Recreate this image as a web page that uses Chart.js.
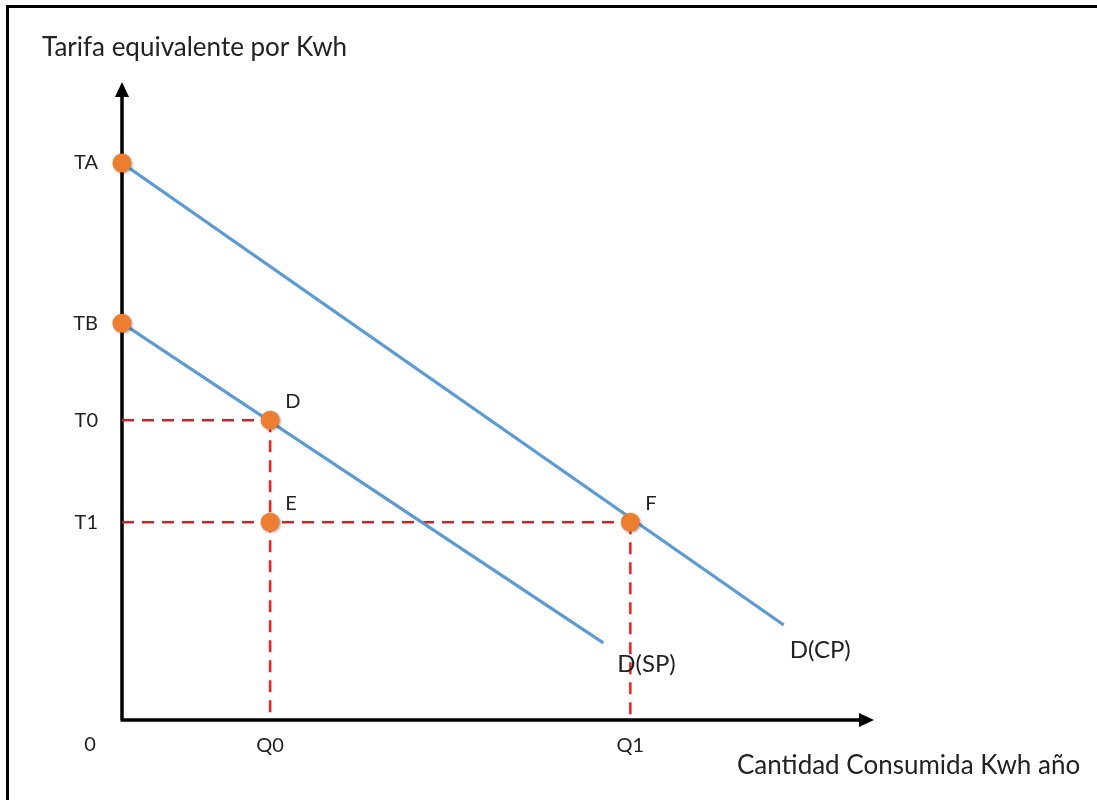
<!DOCTYPE html>
<html>
<head>
<meta charset="utf-8">
<script src="https://cdn.jsdelivr.net/npm/chart.js@4"></script>
<style>
  body { margin: 0; background: #fff; }
  #wrap { position: relative; width: 1097px; height: 800px; }
</style>
</head>
<body>
<div id="wrap"><canvas id="myChart"></canvas></div>
<script>
// Tariff levels on the vertical axis
const tickNames = ['TA', 'TB', 'T0', 'T1'];
const tickValues = [87.3, 62.2, 47, 31];

// Quantities on the horizontal axis
const qNames = ['Q0', 'Q1'];
const qValues = [19.7, 67.6];

// Demand curves (start and end points)
const curveSP = [{ x: 0, y: 62.2 }, { x: 64, y: 12.1 }];
const curveCP = [{ x: 0, y: 87.3 }, { x: 88, y: 14.9 }];

// Marked points
const pointNames = ['TA', 'TB', 'D', 'E', 'F'];
const pointX = [0, 0, 19.7, 19.7, 67.6];
const pointY = [87.3, 62.2, 47, 31, 31];

const FONT = 'Lato, "Open Sans", sans-serif';
const TEXT = '#222';

// Frame, arrow axes and free text
const decorPlugin = {
    id: 'decor',
    beforeDatasetsDraw(chart) {
        const ctx = chart.ctx;
        const a = chart.chartArea;
        ctx.save();
        // outer frame (left and top edges only visible)
        ctx.strokeStyle = '#000';
        ctx.lineWidth = 3;
        ctx.strokeRect(7.5, 6.5, 1200, 900);
        // axes
        ctx.lineWidth = 3.5;
        ctx.beginPath();
        ctx.moveTo(a.left, a.bottom);
        ctx.lineTo(a.left, a.top + 10);
        ctx.moveTo(a.left - 1.5, a.bottom);
        ctx.lineTo(a.right - 10, a.bottom);
        ctx.stroke();
        ctx.fillStyle = '#000';
        ctx.beginPath();
        ctx.moveTo(a.left, a.top);
        ctx.lineTo(a.left - 7, a.top + 15);
        ctx.lineTo(a.left + 7, a.top + 15);
        ctx.closePath();
        ctx.fill();
        ctx.beginPath();
        ctx.moveTo(a.right, a.bottom);
        ctx.lineTo(a.right - 15, a.bottom - 7);
        ctx.lineTo(a.right - 15, a.bottom + 7);
        ctx.closePath();
        ctx.fill();
        ctx.restore();
    },
    afterDatasetsDraw(chart) {
        const ctx = chart.ctx;
        const xs = chart.scales.x, ys = chart.scales.y;
        ctx.save();
        ctx.fillStyle = TEXT;
        ctx.textBaseline = 'middle';
        ctx.textAlign = 'left';
        ctx.font = '26px ' + FONT;
        ctx.fillText('Tarifa equivalente por Kwh', 42, 48, 308);
        ctx.fillText('Cantidad Consumida Kwh año', 737, 766, 346);
        ctx.font = '20px ' + FONT;
        ctx.textAlign = 'center';
        ctx.fillText('0', xs.getPixelForValue(0) - 32, 745);
        // point labels D, E, F
        ctx.textAlign = 'left';
        for (let i = 2; i < pointNames.length; i++) {
            ctx.fillText(pointNames[i], xs.getPixelForValue(pointX[i]) + 15, ys.getPixelForValue(pointY[i]) - 19);
        }
        // curve labels
        ctx.font = '24px ' + FONT;
        ctx.fillText('D(SP)', xs.getPixelForValue(curveSP[1].x) + 14, ys.getPixelForValue(curveSP[1].y) + 21);
        ctx.fillText('D(CP)', xs.getPixelForValue(curveCP[1].x) + 6, ys.getPixelForValue(curveCP[1].y) + 25);
        ctx.restore();
    },
    beforeDatasetDraw(chart, args) {
        if (args.index === 0) {
            const ctx = chart.ctx;
            ctx.save();
            ctx.shadowColor = 'rgba(0,0,0,0.35)';
            ctx.shadowBlur = 3;
            ctx.shadowOffsetX = 1;
            ctx.shadowOffsetY = 1;
        }
    },
    afterDatasetDraw(chart, args) {
        if (args.index === 0) chart.ctx.restore();
    }
};

const pts = pointX.map((x, i) => ({ x: x, y: pointY[i] }));
const darkRed = '#C62828';
const brightRed = '#FF1A1A';
const dash = [12, 8];

function seg(data, color) {
    return {
        data: data, showLine: true, borderColor: color, borderWidth: 2.5,
        borderDash: dash, pointRadius: 0, fill: false
    };
}

new Chart(document.getElementById('myChart'), {
    type: 'scatter',
    data: {
        datasets: [
            {
                data: pts, pointRadius: 9.5, pointHoverRadius: 9.5, clip: false,
                backgroundColor: '#ED7D31', borderColor: '#ED7D31', borderWidth: 0
            },
            { data: curveCP, showLine: true, borderColor: '#5B9BD5', borderWidth: 3.2, pointRadius: 0 },
            { data: curveSP, showLine: true, borderColor: '#5B9BD5', borderWidth: 3.2, pointRadius: 0 },
            seg([{ x: 0, y: tickValues[2] }, { x: qValues[0], y: tickValues[2] }], darkRed),
            seg([{ x: 0, y: tickValues[3] }, { x: qValues[1], y: tickValues[3] }], darkRed),
            seg([{ x: qValues[0], y: tickValues[2] }, { x: qValues[0], y: 0 }], brightRed),
            seg([{ x: qValues[1], y: tickValues[3] }, { x: qValues[1], y: 0 }], brightRed)
        ]
    },
    options: {
        responsive: true,
        maintainAspectRatio: false,
        animation: false,
        layout: { padding: { top: 82, right: 223, left: 0, bottom: 0 } },
        plugins: { legend: { display: false }, tooltip: { enabled: false } },
        scales: {
            x: {
                type: 'linear', min: 0, max: 100,
                grid: { display: false, drawTicks: false },
                border: { display: false },
                afterFit: s => { s.height = 80; },
                afterBuildTicks: s => { s.ticks = qValues.map(v => ({ value: v })); },
                ticks: {
                    padding: 14, color: TEXT, font: { family: FONT, size: 20 },
                    callback: v => qNames[qValues.indexOf(v)]
                }
            },
            y: {
                type: 'linear', min: 0, max: 100,
                grid: { display: false, drawTicks: false },
                border: { display: false },
                afterFit: s => { s.width = 122; },
                afterBuildTicks: s => { s.ticks = tickValues.map(v => ({ value: v })); },
                ticks: {
                    padding: 24, color: TEXT, font: { family: FONT, size: 20 },
                    callback: v => tickNames[tickValues.indexOf(v)]
                }
            }
        }
    },
    plugins: [decorPlugin]
});
</script>
</body>
</html>
